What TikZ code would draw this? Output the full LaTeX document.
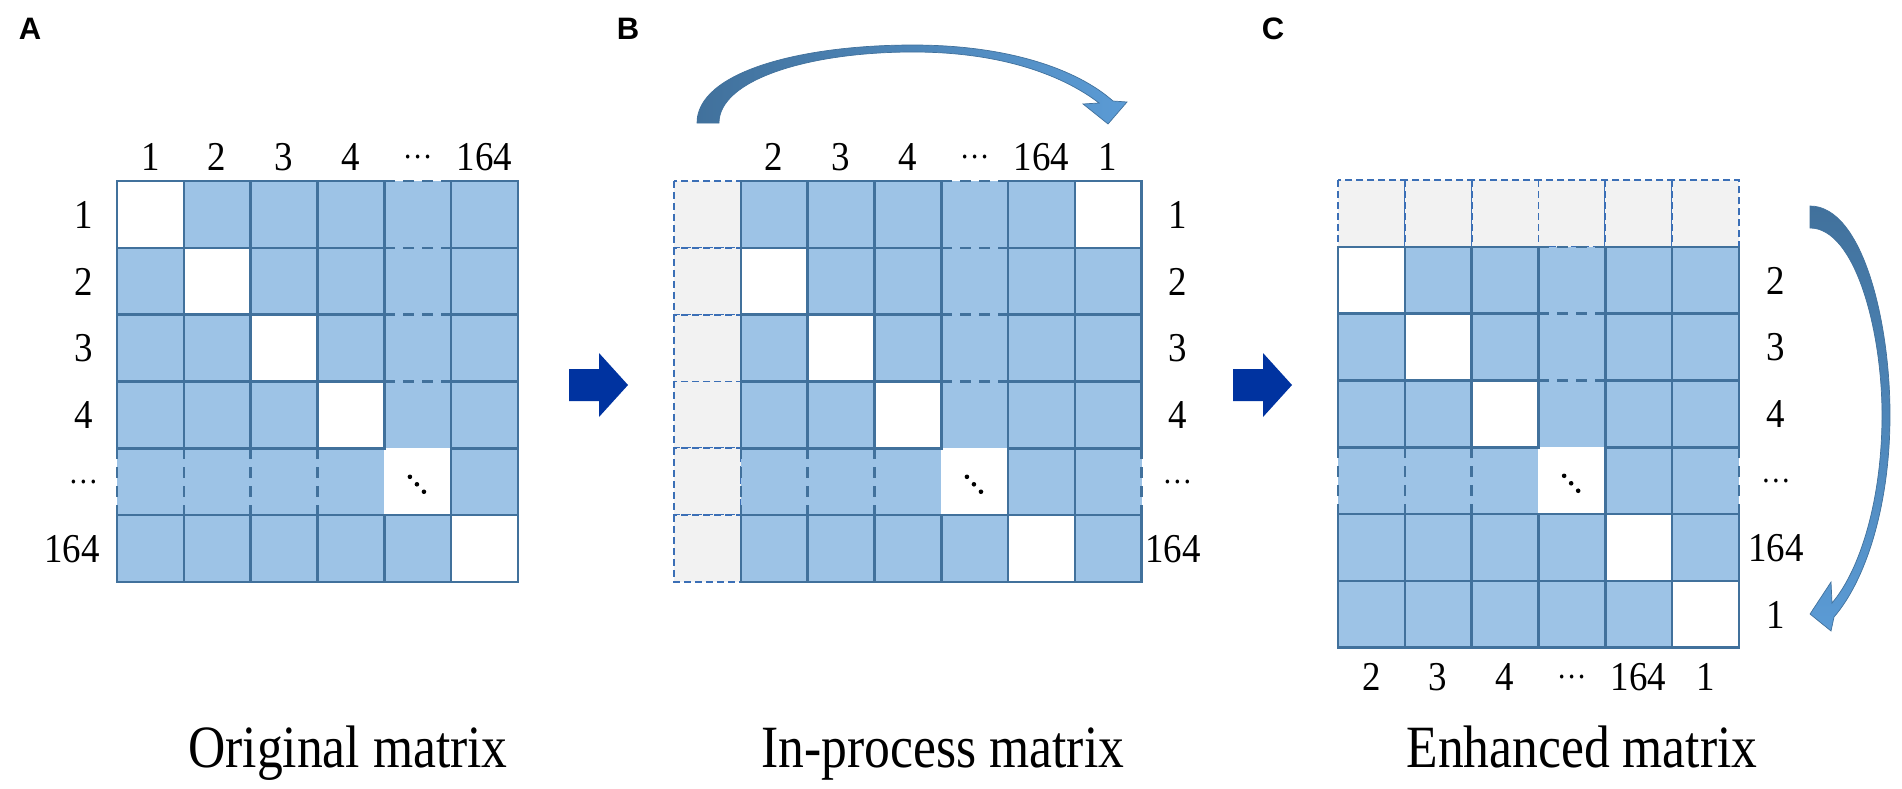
\documentclass[tikz,border=0pt]{standalone}
\usepackage{fontspec}
\setmainfont{Liberation Serif}
\newfontfamily\serf[FakeStretch=0.9]{Liberation Serif}
\newfontfamily\titf[FakeStretch=0.86]{Liberation Serif}
\newfontfamily\labf{Liberation Sans}
\definecolor{cellblue}{HTML}{9DC3E6}
\definecolor{gridc}{HTML}{41719C}
\definecolor{grayc}{HTML}{F2F2F2}
\definecolor{gdc}{HTML}{3B6FB6}
\definecolor{barrow}{HTML}{0033A0}
\definecolor{arrdark}{HTML}{41719C}
\definecolor{arrlight}{HTML}{5B9BD5}
\begin{document}
\begin{tikzpicture}[x=1pt,y=-1pt,
 gl/.style={draw=gridc,line width=2.6pt,line cap=rect},
 gd/.style={draw=gridc,line width=2.6pt,dash pattern=on 11pt off 8pt},
 gcell/.style={fill=grayc,draw=gdc,line width=1.8pt,dash pattern=on 7pt off 4pt},
 num/.style={font=\serf\fontsize{41}{42}\selectfont,inner sep=0pt,anchor=base},
 dts/.style={font=\serf\fontsize{33}{33}\selectfont,inner sep=0pt,anchor=center},
 ttl/.style={font=\titf\fontsize{60}{64}\selectfont,inner sep=0pt,anchor=base},
 pnl/.style={font=\labf\bfseries\fontsize{31}{32}\selectfont,inner sep=0pt,anchor=base},
 blk/.style={fill=barrow},
 dotm/.style={fill=black},
 carrow/.style={draw=arrdark,line width=0.7pt}]
\useasboundingbox (0,0) rectangle (1902,788);

% ---------------- Matrix A ----------------
\begin{scope}[shift={(117,181)},x=66.8pt,y=-66.8pt]
 \fill[cellblue] (0,0) rectangle (6,6);
 \foreach \i in {0,...,5} \fill[white] (\i,\i) rectangle ++(1,1);
 \foreach \s in {-1,0,1} \fill[dotm] (4.49+\s*0.105,4.54+\s*0.112) circle (2.3pt);
 \foreach \k in {0,1,2,3} {\draw[gl] (0,\k) -- (4,\k); \draw[gd] (4,\k) -- (5,\k); \draw[gl] (5,\k) -- (6,\k);}
 \draw[gl] (0,4) -- (4,4); \draw[gl] (5,4) -- (6,4);
 \draw[gl] (0,5) -- (6,5); \draw[gl] (0,6) -- (6,6);
 \foreach \j in {0,1,2,3} {\draw[gl] (\j,0) -- (\j,4); \draw[gd] (\j,4) -- (\j,5); \draw[gl] (\j,5) -- (\j,6);}
 \draw[gl] (4,0) -- (4,4); \draw[gl] (4,5) -- (4,6);
 \draw[gl] (5,0) -- (5,6); \draw[gl] (6,0) -- (6,6);
\end{scope}

% ---------------- Matrix B ----------------
\begin{scope}[shift={(674,181)},x=66.8pt,y=-66.8pt]
 \foreach \r in {0,...,5} \draw[gcell] (0,\r) rectangle (1,\r+1);
 \fill[cellblue] (1,0) rectangle (7,6);
 \fill[white] (6,0) rectangle (7,1);
 \foreach \i in {1,...,5} \fill[white] (\i,\i) rectangle ++(1,1);
 \foreach \s in {-1,0,1} \fill[dotm] (4.49+\s*0.105,4.54+\s*0.112) circle (2.3pt);
 \foreach \k in {0,1,2,3} {\draw[gl] (1,\k) -- (4,\k); \draw[gd] (4,\k) -- (5,\k); \draw[gl] (5,\k) -- (7,\k);}
 \draw[gl] (1,4) -- (4,4); \draw[gl] (5,4) -- (7,4);
 \draw[gl] (1,5) -- (7,5); \draw[gl] (1,6) -- (7,6);
 \foreach \j in {1,2,3,7} {\draw[gl] (\j,0) -- (\j,4); \draw[gd] (\j,4) -- (\j,5); \draw[gl] (\j,5) -- (\j,6);}
 \draw[gl] (4,0) -- (4,4); \draw[gl] (4,5) -- (4,6);
 \draw[gl] (5,0) -- (5,6); \draw[gl] (6,0) -- (6,6);
\end{scope}

% ---------------- Matrix C ----------------
\begin{scope}[shift={(1338,180)},x=66.8pt,y=-66.8pt]
 \foreach \c in {0,...,5} \draw[gcell] (\c,0) rectangle (\c+1,1);
 \fill[cellblue] (0,1) rectangle (6,7);
 \foreach \i in {0,...,5} \fill[white] (\i,\i+1) rectangle ++(1,1);
 \foreach \s in {-1,0,1} \fill[dotm] (3.49+\s*0.105,4.54+\s*0.112) circle (2.3pt);
 \foreach \k in {1,2,3} {\draw[gl] (0,\k) -- (3,\k); \draw[gd] (3,\k) -- (4,\k); \draw[gl] (4,\k) -- (6,\k);}
 \draw[gl] (0,4) -- (3,4); \draw[gl] (4,4) -- (6,4);
 \draw[gl] (0,5) -- (6,5); \draw[gl] (0,6) -- (6,6); \draw[gl] (0,7) -- (6,7);
 \foreach \j in {0,1,2,6} {\draw[gl] (\j,1) -- (\j,4); \draw[gd] (\j,4) -- (\j,5); \draw[gl] (\j,5) -- (\j,7);}
 \draw[gl] (3,1) -- (3,4); \draw[gl] (3,5) -- (3,7);
 \draw[gl] (4,1) -- (4,7); \draw[gl] (5,1) -- (5,7);
\end{scope}

% ---------------- block arrows ----------------
\fill[blk] (569,369) -- (599,369) -- (599,353) -- (628,385) -- (599,417) -- (599,401) -- (569,401) -- cycle;
\fill[blk] (1233,369) -- (1263,369) -- (1263,353) -- (1292,385) -- (1263,417) -- (1263,401) -- (1233,401) -- cycle;

% ---------------- curved arrows ----------------
\shade[left color=arrdark,right color=arrlight,carrow]
 (697,123) .. controls (697,72) and (800,45) .. (913,45)
 .. controls (1010,45) and (1078,70) .. (1113,101)
 -- (1127,102) -- (1108,124) -- (1083,104) -- (1099,103)
 .. controls (1065,77) and (1005,52) .. (913,52)
 .. controls (808,52) and (719,80) .. (719,123) -- cycle;
\shade[top color=arrdark,bottom color=arrlight,carrow]
 (1810,206) .. controls (1862,206) and (1890,320) .. (1890,415)
 .. controls (1890,505) and (1866,580) .. (1834,617)
 -- (1831,631) -- (1810,614) -- (1831,582) -- (1832,603)
 .. controls (1860,570) and (1882,500) .. (1882,415)
 .. controls (1882,330) and (1855,228) .. (1810,228) -- cycle;

% ---------------- panel letters ----------------
\node[pnl] (pA) at (30,39) {A};
\node[pnl] (pB) at (628,39) {B};
\node[pnl] (pC) at (1273,39) {C};

% ---------------- labels A ----------------
\node[num] (ac1) at (150.4,170) {1};
\node[num] (ac2) at (217.2,170) {2};
\node[num] (ac3) at (284.0,170) {3};
\node[num] (ac4) at (350.8,170) {4};
\node[dts] (ac5) at (417.6,157) {…};
\node[num] (ac6) at (484.4,170) {164};
\node[num] (ar1) at (83.5,228.2) {1};
\node[num] (ar2) at (83.5,295.0) {2};
\node[num] (ar3) at (83.5,361.8) {3};
\node[num] (ar4) at (83.5,428.6) {4};
\node[dts] (ar5) at (83.5,481.6) {…};
\node[num] (ar6) at (72,562.2) {164};

% ---------------- labels B ----------------
\node[num] (bc1) at (774.2,170) {2};
\node[num] (bc2) at (841.0,170) {3};
\node[num] (bc3) at (907.8,170) {4};
\node[dts] (bc4) at (974.6,157) {…};
\node[num] (bc5) at (1041.4,170) {164};
\node[num] (bc6) at (1108.2,170) {1};
\node[num] (br1) at (1177.5,228.2) {1};
\node[num] (br2) at (1177.5,295.0) {2};
\node[num] (br3) at (1177.5,361.8) {3};
\node[num] (br4) at (1177.5,428.6) {4};
\node[dts] (br5) at (1177.5,481.6) {…};
\node[num] (br6) at (1173,562.2) {164};

% ---------------- labels C ----------------
\node[num] (cr1) at (1776,294.0) {2};
\node[num] (cr2) at (1776,360.8) {3};
\node[num] (cr3) at (1776,427.6) {4};
\node[dts] (cr4) at (1776,480.6) {…};
\node[num] (cr5) at (1776,561.2) {164};
\node[num] (cr6) at (1776,628.0) {1};
\node[num] (cc1) at (1371.4,690) {2};
\node[num] (cc2) at (1438.2,690) {3};
\node[num] (cc3) at (1505.0,690) {4};
\node[dts] (cc4) at (1571.8,677) {…};
\node[num] (cc5) at (1638.6,690) {164};
\node[num] (cc6) at (1705.4,690) {1};

% ---------------- titles ----------------
\node[ttl] (tA) at (348,767) {Original matrix};
\node[ttl] (tB) at (943,767) {In-process matrix};
\node[ttl] (tC) at (1582,767) {Enhanced matrix};
\end{tikzpicture}
\end{document}
